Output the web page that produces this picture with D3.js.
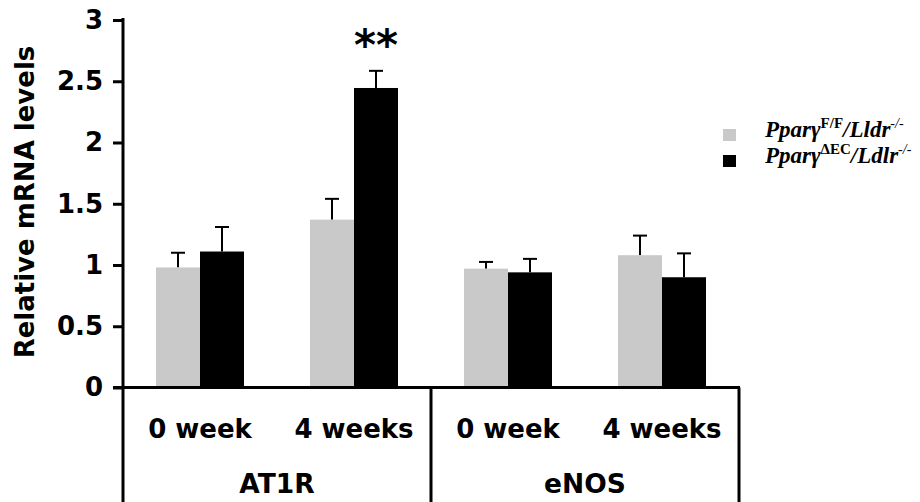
<!DOCTYPE html>
<html><head><meta charset="utf-8">
<script src="https://cdn.jsdelivr.net/npm/d3@7"></script>
<style>
html,body{margin:0;padding:0;background:#fff;}
svg{display:block;}
</style></head>
<body>
<svg id="chart" width="920" height="502"></svg>
<script>
const timepoints = ["0 week", "4 weeks", "0 week", "4 weeks"];
const genes = ["AT1R", "eNOS"];
const seriesNames = ["flox", "ec"];
const floxMean = [0.98, 1.37, 0.97, 1.08];
const floxErr  = [0.12, 0.17, 0.055, 0.16];
const ecMean   = [1.11, 2.445, 0.94, 0.90];
const ecErr    = [0.20, 0.14, 0.11, 0.195];
const yTicks = [0, 0.5, 1, 1.5, 2, 2.5, 3];
const yTickLabels = ["0", "0.5", "1", "1.5", "2", "2.5", "3"];
const significance = [null, "**", null, null];

const svg = d3.select("#chart");
const font = "'DejaVu Sans', Verdana, sans-serif";
const x0 = d3.scaleBand().domain(d3.range(timepoints.length)).range([123, 739]).paddingInner(0).paddingOuter(0);
const x1 = d3.scaleBand().domain(seriesNames).range([0, x0.bandwidth()]).paddingInner(0).paddingOuter(0.75);
const y = d3.scaleLinear().domain([0, 3]).range([387.5, 20]);
const colors = {flox: "#c9c9c9", ec: "#000000"};

const data = [];
timepoints.forEach((t, i) => {
  data.push({i, s: "flox", v: floxMean[i], e: floxErr[i]});
  data.push({i, s: "ec", v: ecMean[i], e: ecErr[i]});
});

const eb = svg.append("g");
data.forEach(d => {
  const cx = x0(d.i) + x1(d.s) + x1.bandwidth() / 2;
  eb.append("line").attr("x1", cx).attr("x2", cx).attr("y1", y(d.v)).attr("y2", y(d.v + d.e))
    .attr("stroke", "#000").attr("stroke-width", 2);
  eb.append("line").attr("x1", cx - 7).attr("x2", cx + 7).attr("y1", y(d.v + d.e)).attr("y2", y(d.v + d.e))
    .attr("stroke", "#000").attr("stroke-width", 2);
});

svg.append("g").selectAll("rect").data(data).join("rect")
  .attr("x", d => x0(d.i) + x1(d.s))
  .attr("width", x1.bandwidth())
  .attr("y", d => y(d.v))
  .attr("height", d => y(0) - y(d.v))
  .attr("fill", d => colors[d.s]);

significance.forEach((s, i) => {
  if (!s) return;
  const cx = x0(i) + x1("ec") + x1.bandwidth() / 2;
  svg.append("text").attr("x", cx).attr("y", 60).attr("text-anchor", "middle")
    .attr("font-family", font).attr("font-weight", "bold").attr("font-size", 42).text(s);
});

const yAxis = d3.axisLeft(y).tickValues(yTicks).tickFormat((d, i) => yTickLabels[i]).tickSize(10).tickPadding(10);
const ga = svg.append("g").attr("transform", "translate(123,0)").call(yAxis);
ga.select(".domain").remove();
ga.selectAll(".tick line").attr("stroke-width", 3).attr("stroke", "#000");
ga.selectAll(".tick text").attr("font-family", font).attr("font-weight", "bold").attr("font-size", 26).attr("fill", "#000");
svg.append("line").attr("x1", 123).attr("x2", 123).attr("y1", 18).attr("y2", 502).attr("stroke", "#000").attr("stroke-width", 3);

svg.append("line").attr("x1", 113).attr("x2", 740).attr("y1", y(0)).attr("y2", y(0)).attr("stroke", "#000").attr("stroke-width", 3);

genes.forEach((g, gi) => {
  const xr = x0(gi * 2 + 1) + x0.bandwidth();
  svg.append("line").attr("x1", xr).attr("x2", xr).attr("y1", y(0)).attr("y2", 502).attr("stroke", "#000").attr("stroke-width", 3);
  const xl = x0(gi * 2);
  svg.append("text").attr("x", (xl + xr) / 2).attr("y", 493).attr("text-anchor", "middle")
    .attr("font-family", font).attr("font-weight", "bold").attr("font-size", 26.5).text(g);
});

timepoints.forEach((t, i) => {
  svg.append("text").attr("x", x0(i) + x0.bandwidth() / 2).attr("y", 438).attr("text-anchor", "middle")
    .attr("font-family", font).attr("font-weight", "bold").attr("font-size", 26).text(t);
});

svg.append("text").attr("transform", "translate(34,202) rotate(-90)").attr("text-anchor", "middle")
  .attr("font-family", font).attr("font-weight", "bold").attr("font-size", 26).text("Relative mRNA levels");

const serif = "'Liberation Serif', 'Times New Roman', serif";
const legendItems = [
  {s: "flox", sup: "F/F", gene: "/Lldr"},
  {s: "ec", sup: "\u0394EC", gene: "/Ldlr"}
];
legendItems.forEach((it, k) => {
  const yy = 137 + k * 26;
  svg.append("rect").attr("x", 723).attr("y", yy - 8).attr("width", 13).attr("height", 12).attr("fill", colors[it.s]);
  const t = svg.append("text").attr("x", 765).attr("y", yy).attr("font-family", serif).attr("font-weight", "bold").attr("font-size", 23);
  t.append("tspan").attr("font-style", "italic").text("Ppar\u03b3");
  t.append("tspan").attr("font-size", 15).attr("dy", -9).text(it.sup);
  t.append("tspan").attr("font-style", "italic").attr("dy", 9).text(it.gene);
  t.append("tspan").attr("font-style", "italic").attr("font-weight", "normal").attr("font-size", 14).attr("dy", -9).text("-/-");
});
</script>
</body></html>
